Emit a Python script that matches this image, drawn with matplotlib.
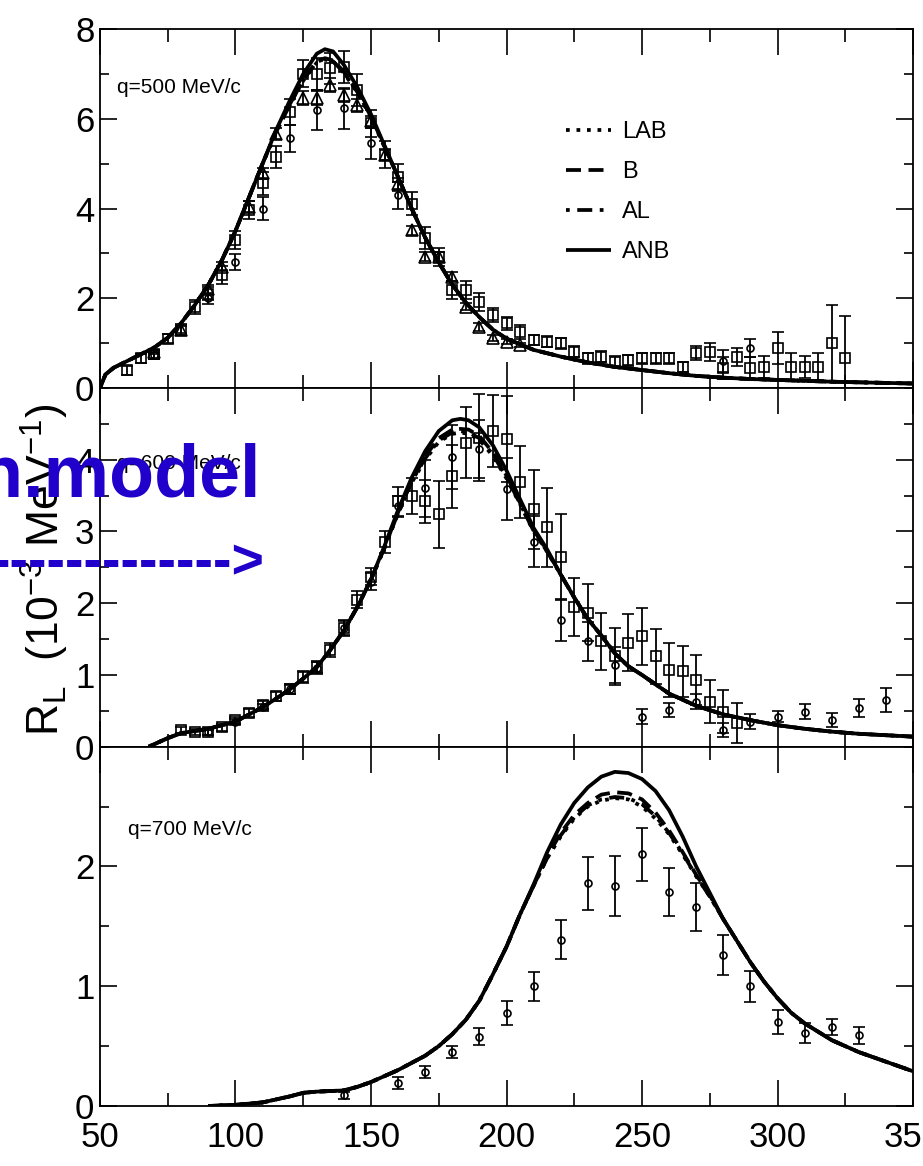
import matplotlib
matplotlib.use("Agg")
import matplotlib.pyplot as plt
from matplotlib import font_manager as fm
from matplotlib.ticker import MultipleLocator

avail = {f.name for f in fm.fontManager.ttflist}
if "Liberation Sans Narrow" in avail:
    FONT = "Liberation Sans Narrow"
else:
    FONT = "Liberation Sans"
plt.rcParams["font.family"] = [FONT, "DejaVu Sans"]

# ---------------- data ----------------
# q = 500 MeV/c theory curves
x_top = [50, 52, 55, 60, 65, 70, 75, 80, 85, 90, 95, 100, 105, 110, 115, 120, 125, 130, 133, 136,
         140, 145, 150, 155, 160, 165, 170, 175, 180, 185, 190, 195, 200, 210, 220, 230, 240, 250, 260, 270,
         280, 290, 300, 320, 350]
anb_top = [0, 0.3, 0.45, 0.6, 0.75, 0.9, 1.12, 1.45, 1.85, 2.3, 2.85, 3.5, 4.25, 5.0, 5.75, 6.4, 7.0, 7.45, 7.55, 7.5,
           7.2, 6.7, 6.1, 5.4, 4.7, 4.0, 3.35, 2.8, 2.3, 1.9, 1.58, 1.3, 1.1, 0.85, 0.7, 0.57, 0.47, 0.4, 0.33, 0.27,
           0.23, 0.2, 0.18, 0.14, 0.1]
b_top = [0, 0.3, 0.45, 0.6, 0.75, 0.9, 1.12, 1.45, 1.85, 2.3, 2.85, 3.5, 4.25, 5.0, 5.72, 6.3, 6.88, 7.28, 7.35, 7.3,
         7.05, 6.6, 6.05, 5.38, 4.7, 4.0, 3.35, 2.8, 2.3, 1.9, 1.58, 1.3, 1.1, 0.85, 0.7, 0.57, 0.47, 0.4, 0.33, 0.27,
         0.23, 0.2, 0.18, 0.14, 0.1]
lab_top = [0, 0.3, 0.45, 0.6, 0.75, 0.9, 1.12, 1.45, 1.85, 2.3, 2.85, 3.5, 4.25, 5.0, 5.7, 6.3, 6.85, 7.25, 7.32, 7.28,
           7.02, 6.58, 6.03, 5.37, 4.7, 4.0, 3.35, 2.8, 2.3, 1.9, 1.58, 1.3, 1.1, 0.85, 0.7, 0.57, 0.47, 0.4, 0.33, 0.27,
           0.23, 0.2, 0.18, 0.14, 0.1]
al_top = [0, 0.3, 0.45, 0.6, 0.75, 0.9, 1.12, 1.45, 1.85, 2.3, 2.85, 3.5, 4.25, 5.0, 5.71, 6.32, 6.87, 7.27, 7.33, 7.28,
          7.03, 6.6, 6.05, 5.38, 4.7, 4.0, 3.35, 2.8, 2.3, 1.9, 1.58, 1.3, 1.1, 0.85, 0.7, 0.57, 0.47, 0.4, 0.33, 0.27,
          0.23, 0.2, 0.18, 0.14, 0.1]

# q = 500 MeV/c data
sq_top_x = [60, 65, 70, 75, 80, 85, 90, 95, 100, 105, 110, 115, 120, 125, 130, 135, 140, 145, 150, 155,
            160, 165, 170, 175, 180, 185, 190, 195, 200, 205, 210, 215, 220, 225, 230, 235, 240, 245, 250, 255,
            260, 265, 270, 275, 280, 285, 290, 295, 300, 305, 310, 315, 320, 325]
sq_top_y = [0.40, 0.66, 0.75, 1.1, 1.3, 1.8, 2.1, 2.52, 3.3, 3.96, 4.56, 5.15, 6.15, 7.0, 7.0, 7.12, 7.15, 6.64, 5.9, 5.2,
            4.7, 4.11, 3.34, 2.92, 2.18, 2.18, 1.92, 1.63, 1.44, 1.25, 1.07, 1.03, 1.0, 0.81, 0.66, 0.7, 0.59, 0.62, 0.66, 0.66,
            0.66, 0.47, 0.78, 0.8, 0.45, 0.7, 0.45, 0.47, 0.89, 0.47, 0.47, 0.47, 1.0, 0.66]
sq_top_e = [0.1, 0.1, 0.1, 0.1, 0.12, 0.15, 0.15, 0.2, 0.2, 0.2, 0.25, 0.25, 0.3, 0.3, 0.35, 0.35, 0.35, 0.35, 0.3, 0.3,
            0.3, 0.25, 0.25, 0.2, 0.2, 0.2, 0.2, 0.15, 0.15, 0.15, 0.12, 0.12, 0.12, 0.12, 0.12, 0.12, 0.12, 0.12, 0.12, 0.12,
            0.12, 0.12, 0.15, 0.2, 0.25, 0.2, 0.25, 0.25, 0.35, 0.3, 0.25, 0.3, 0.85, 0.95]
tri_top_x = [70, 80, 90, 95, 105, 110, 115, 125, 130, 135, 140, 145, 150, 155, 160, 165, 170, 175, 180, 185,
             190, 195, 200, 205]
tri_top_y = [0.8, 1.3, 2.2, 2.7, 4.04, 4.78, 5.67, 6.46, 6.46, 6.75, 6.52, 6.3, 5.95, 5.2, 4.55, 3.52, 2.92, 2.92, 2.48, 1.81,
             1.36, 1.11, 1.03, 0.96]
tri_top_e = [0.05, 0.08, 0.1, 0.1, 0.12, 0.12, 0.12, 0.15, 0.15, 0.15, 0.15, 0.15, 0.12, 0.12, 0.12, 0.1, 0.1, 0.1, 0.1, 0.08,
             0.08, 0.06, 0.06, 0.05]
ci_top_x = [70, 90, 100, 110, 120, 130, 140, 150, 160, 280, 290]
ci_top_y = [0.73, 2.0, 2.8, 4.0, 5.56, 6.19, 6.23, 5.45, 4.3, 0.6, 0.9]
ci_top_e = [0.08, 0.12, 0.18, 0.25, 0.3, 0.45, 0.45, 0.35, 0.3, 0.25, 0.2]

# q = 600 MeV/c theory curves
x_mid = [68, 75, 80, 90, 100, 110, 115, 120, 125, 130, 135, 140, 145, 150, 155, 160, 165, 170, 175, 180,
         183, 186, 190, 195, 200, 205, 210, 215, 220, 225, 230, 235, 240, 245, 250, 260, 270, 280, 290, 300,
         310, 320, 330, 340, 350]
anb_mid = [0, 0.12, 0.19, 0.25, 0.35, 0.55, 0.67, 0.8, 0.95, 1.11, 1.35, 1.62, 1.95, 2.33, 2.8, 3.3, 3.75, 4.12, 4.4, 4.55,
           4.57, 4.55, 4.45, 4.2, 3.85, 3.45, 3.05, 2.75, 2.4, 2.08, 1.78, 1.55, 1.3, 1.12, 1.0, 0.74, 0.57, 0.45, 0.37, 0.3,
           0.25, 0.21, 0.18, 0.16, 0.14]
b_mid = [0, 0.12, 0.19, 0.25, 0.35, 0.55, 0.67, 0.8, 0.95, 1.11, 1.35, 1.62, 1.95, 2.33, 2.78, 3.27, 3.7, 4.05, 4.3, 4.42,
         4.43, 4.42, 4.33, 4.1, 3.78, 3.4, 3.02, 2.73, 2.4, 2.08, 1.78, 1.55, 1.3, 1.12, 1.0, 0.74, 0.57, 0.45, 0.37, 0.3,
         0.25, 0.21, 0.18, 0.16, 0.14]
lab_mid = [0, 0.12, 0.19, 0.25, 0.35, 0.55, 0.67, 0.8, 0.95, 1.11, 1.35, 1.62, 1.95, 2.33, 2.77, 3.25, 3.68, 4.0, 4.25, 4.36,
           4.38, 4.36, 4.28, 4.05, 3.74, 3.38, 3.0, 2.72, 2.4, 2.08, 1.78, 1.55, 1.3, 1.12, 1.0, 0.74, 0.57, 0.45, 0.37, 0.3,
           0.25, 0.21, 0.18, 0.16, 0.14]
al_mid = [0, 0.12, 0.19, 0.25, 0.35, 0.55, 0.67, 0.8, 0.95, 1.11, 1.35, 1.62, 1.95, 2.33, 2.78, 3.26, 3.7, 4.02, 4.27, 4.38,
          4.4, 4.38, 4.3, 4.07, 3.76, 3.39, 3.01, 2.72, 2.4, 2.08, 1.78, 1.55, 1.3, 1.12, 1.0, 0.74, 0.57, 0.45, 0.37, 0.3,
          0.25, 0.21, 0.18, 0.16, 0.14]

# q = 600 MeV/c data
sq_mid_x = [80, 85, 90, 95, 100, 105, 110, 115, 120, 125, 130, 135, 140, 145, 150, 155, 160, 165, 170, 175,
            180, 185, 190, 195, 200, 205, 210, 215, 220, 225, 230, 235, 240, 245, 250, 255, 260, 265, 270, 275,
            280, 285]
sq_mid_y = [0.23, 0.2, 0.2, 0.27, 0.37, 0.47, 0.58, 0.7, 0.8, 0.97, 1.11, 1.35, 1.66, 2.05, 2.37, 2.85, 3.42, 3.5, 3.42, 3.24,
            3.77, 4.24, 4.31, 4.4, 4.29, 3.69, 3.31, 3.06, 2.64, 1.95, 1.87, 1.47, 1.26, 1.45, 1.54, 1.26, 1.07, 1.05, 0.93, 0.63,
            0.49, 0.33]
sq_mid_e = [0.04, 0.04, 0.04, 0.05, 0.05, 0.06, 0.06, 0.06, 0.07, 0.08, 0.08, 0.1, 0.1, 0.12, 0.12, 0.15, 0.2, 0.25, 0.3, 0.47,
            0.44, 0.5, 0.6, 0.5, 0.6, 0.5, 0.55, 0.55, 0.6, 0.4, 0.4, 0.4, 0.4, 0.4, 0.4, 0.38, 0.38, 0.36, 0.35, 0.3,
            0.3, 0.28]
ci_mid_x = [90, 100, 110, 120, 130, 140, 150, 160, 170, 180, 190, 200, 210, 220, 230, 240, 250, 260, 270, 280,
            290, 300, 310, 320, 330, 340]
ci_mid_y = [0.2, 0.35, 0.55, 0.8, 1.1, 1.65, 2.3, 3.35, 3.6, 4.04, 4.15, 3.59, 2.86, 1.77, 1.47, 1.14, 0.42, 0.51, 0.63, 0.23,
            0.35, 0.42, 0.49, 0.37, 0.54, 0.65]
ci_mid_e = [0.03, 0.04, 0.05, 0.06, 0.08, 0.1, 0.12, 0.15, 0.4, 0.45, 0.4, 0.43, 0.35, 0.29, 0.27, 0.25, 0.1, 0.1, 0.1, 0.1,
            0.1, 0.08, 0.1, 0.1, 0.13, 0.17]

# q = 700 MeV/c theory curves
x_bot = [90, 100, 110, 120, 125, 130, 140, 145, 150, 155, 160, 165, 170, 175, 180, 185, 190, 195, 200, 205,
         210, 215, 220, 225, 230, 235, 240, 245, 250, 255, 260, 265, 270, 275, 280, 285, 290, 295, 300, 305,
         310, 315, 320, 325, 330, 340, 350]
anb_bot = [0, 0.01, 0.03, 0.08, 0.11, 0.12, 0.13, 0.16, 0.2, 0.25, 0.3, 0.36, 0.42, 0.5, 0.6, 0.72, 0.88, 1.1, 1.33, 1.6,
           1.85, 2.12, 2.35, 2.53, 2.66, 2.75, 2.79, 2.78, 2.73, 2.63, 2.47, 2.25, 2.0, 1.78, 1.56, 1.38, 1.2, 1.04, 0.9, 0.78,
           0.69, 0.62, 0.55, 0.5, 0.45, 0.37, 0.29]
b_bot = [0, 0.01, 0.03, 0.08, 0.11, 0.12, 0.13, 0.16, 0.2, 0.25, 0.3, 0.36, 0.42, 0.5, 0.6, 0.72, 0.88, 1.1, 1.33, 1.6,
         1.84, 2.08, 2.28, 2.43, 2.53, 2.6, 2.62, 2.61, 2.56, 2.45, 2.3, 2.12, 1.93, 1.76, 1.56, 1.38, 1.2, 1.04, 0.9, 0.78,
         0.69, 0.62, 0.55, 0.5, 0.45, 0.37, 0.29]
lab_bot = [0, 0.01, 0.03, 0.08, 0.11, 0.12, 0.13, 0.16, 0.2, 0.25, 0.3, 0.36, 0.42, 0.5, 0.6, 0.72, 0.88, 1.1, 1.33, 1.6,
           1.84, 2.07, 2.25, 2.4, 2.5, 2.55, 2.57, 2.56, 2.5, 2.4, 2.27, 2.1, 1.92, 1.75, 1.56, 1.38, 1.2, 1.04, 0.9, 0.78,
           0.69, 0.62, 0.55, 0.5, 0.45, 0.37, 0.29]
al_bot = [0, 0.01, 0.03, 0.08, 0.11, 0.12, 0.13, 0.16, 0.2, 0.25, 0.3, 0.36, 0.42, 0.5, 0.6, 0.72, 0.88, 1.1, 1.33, 1.6,
          1.84, 2.07, 2.26, 2.41, 2.51, 2.56, 2.58, 2.57, 2.52, 2.42, 2.28, 2.11, 1.92, 1.75, 1.56, 1.38, 1.2, 1.04, 0.9, 0.78,
          0.69, 0.62, 0.55, 0.5, 0.45, 0.37, 0.29]

# q = 700 MeV/c data
ci_bot_x = [140, 160, 170, 180, 190, 200, 210, 220, 230, 240, 250, 260, 270, 280, 290, 300, 310, 320, 330]
ci_bot_y = [0.09, 0.19, 0.28, 0.45, 0.58, 0.78, 1.0, 1.39, 1.86, 1.84, 2.1, 1.79, 1.66, 1.26, 1.0, 0.7, 0.61, 0.66, 0.59]
ci_bot_e = [0.03, 0.05, 0.05, 0.05, 0.07, 0.1, 0.12, 0.16, 0.22, 0.25, 0.22, 0.2, 0.2, 0.17, 0.13, 0.1, 0.08, 0.07, 0.07]

model_names = ["LAB", "B", "AL", "ANB"]
q_labels = ["q=500 MeV/c", "q=600 MeV/c", "q=700 MeV/c"]
x_ticks = [50, 100, 150, 200, 250, 300, 350]

# ---------------- figure ----------------
W, H = 923, 1166
fig = plt.figure(figsize=(W / 100, H / 100), dpi=100)

left = 100 / W
width = 813 / W

def axes_rect(top_px, bot_px):
    return [left, 1 - bot_px / H, width, (bot_px - top_px) / H]

ax_top = fig.add_axes(axes_rect(29, 388))
ax_mid = fig.add_axes(axes_rect(388, 746.7))
ax_bot = fig.add_axes(axes_rect(746.7, 1106))

styles = {
    "LAB": dict(ls=(0, (1, 1.8))),
    "B": dict(ls=(0, (4, 2))),
    "AL": dict(ls=(0, (1, 2, 4, 2))),
    "ANB": dict(ls="-"),
}
LW = 2.7
TICK_FS = 25

panels = [
    (ax_top, x_top, [lab_top, b_top, al_top, anb_top], (0, 8), 1, [0, 2, 4, 6, 8]),
    (ax_mid, x_mid, [lab_mid, b_mid, al_mid, anb_mid], (0, 5), 0.5, [0, 1, 2, 3, 4]),
    (ax_bot, x_bot, [lab_bot, b_bot, al_bot, anb_bot], (0, 3), 0.5, [0, 1, 2]),
]

for ax, xs, curves, ylim, minor, ylab in panels:
    for name, ys in zip(model_names, curves):
        ax.plot(xs, ys, color="black", lw=LW, label=name, solid_capstyle="butt", **styles[name])
    ax.set_xlim(50, 350)
    ax.set_ylim(*ylim)
    ax.set_xticks(x_ticks)
    ax.xaxis.set_minor_locator(MultipleLocator(25))
    ax.set_yticks(ylab)
    ax.yaxis.set_minor_locator(MultipleLocator(minor))
    ax.tick_params(axis="both", which="both", direction="in", top=True, right=True,
                   labelsize=TICK_FS, width=1.2, colors="black")
    ax.tick_params(axis="x", which="major", length=19)
    ax.tick_params(axis="x", which="minor", length=9.5)
    ax.tick_params(axis="y", which="major", length=12, pad=4)
    ax.tick_params(axis="y", which="minor", length=6.5)
    for s in ax.spines.values():
        s.set_linewidth(1.3)

for ax in (ax_top, ax_mid):
    ax.tick_params(axis="x", labelbottom=False)
ax_bot.tick_params(axis="x", which="major", pad=11)

eb = dict(color="black", mfc="none", mec="black", ecolor="black", elinewidth=1.3,
          capthick=1.3, capsize=4.5, mew=1.2, ls="none", zorder=3)
ax_top.errorbar(sq_top_x, sq_top_y, yerr=sq_top_e, fmt="s", ms=7, **eb)
ax_top.errorbar(tri_top_x, tri_top_y, yerr=tri_top_e, fmt="^", ms=8, **eb)
ax_top.errorbar(ci_top_x, ci_top_y, yerr=ci_top_e, fmt="o", ms=5, **eb)
ax_mid.errorbar(sq_mid_x, sq_mid_y, yerr=sq_mid_e, fmt="s", ms=7, **eb)
ax_mid.errorbar(ci_mid_x, ci_mid_y, yerr=ci_mid_e, fmt="o", ms=5, **eb)
ax_bot.errorbar(ci_bot_x, ci_bot_y, yerr=ci_bot_e, fmt="o", ms=5, **eb)

# legend (top panel)
handles, labels = ax_top.get_legend_handles_labels()
ax_top.legend(handles[:4], labels[:4], loc="upper left",
              bbox_to_anchor=((557 - 100) / 813, (388 - 112) / 359),
              frameon=False, fontsize=17, handlelength=1.9, handletextpad=0.45,
              labelspacing=0.76, borderaxespad=0)

# panel labels
for ax, lab, (xf, yf) in zip((ax_top, ax_mid, ax_bot), q_labels,
                             [(0.021, 0.836), (0.021, 0.79), (0.034, 0.77)]):
    ax.text(xf, yf, lab, transform=ax.transAxes, fontsize=15, ha="left", va="center")

# y label
fig.text(45 / W, 1 - 570 / H, r"R$_\mathregular{L}$  (10$^{\mathregular{-3}}$ MeV$^{\mathregular{-1}}$)",
         rotation=90, ha="center", va="center", fontsize=32, family=["Liberation Sans", "DejaVu Sans"])

# blue overlay annotation
blue = "#2200cc"
fig.text(-22 / W, 1 - 497 / H, "n.model", color=blue, fontsize=53, fontweight="bold",
         ha="left", va="baseline", family=["Liberation Sans", "DejaVu Sans"], zorder=10)
fig.text(-8 / W, 1 - 578 / H, "-------------" + ">", color=blue, fontsize=40, fontweight="bold",
         ha="left", va="baseline", family=["Liberation Sans", "DejaVu Sans"], zorder=10)

fig.savefig("out.png", dpi=100)
